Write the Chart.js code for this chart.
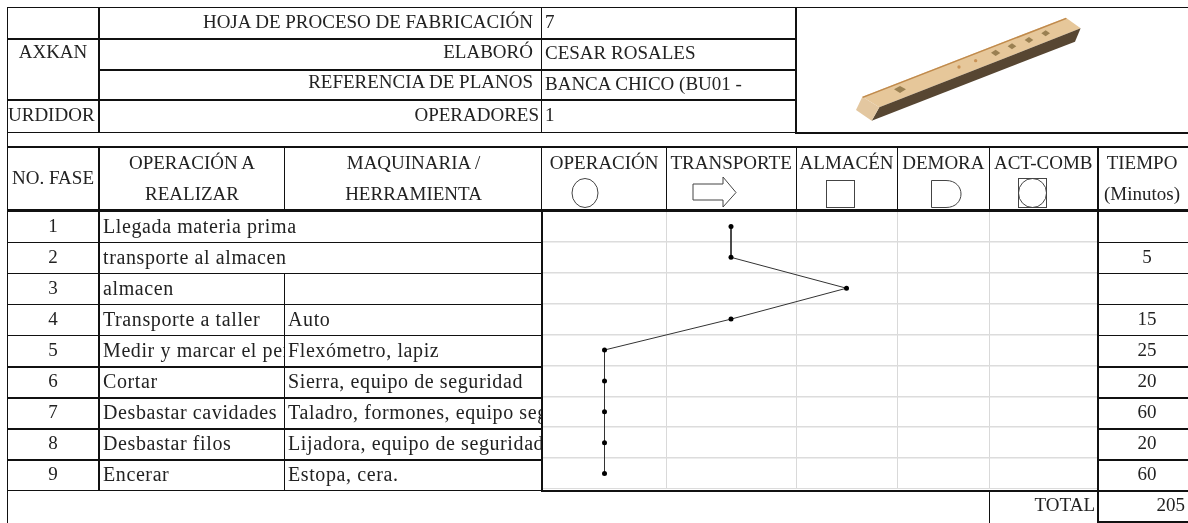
<!DOCTYPE html>
<html>
<head>
<meta charset="utf-8">
<title>Hoja de proceso</title>
<script src="https://cdn.jsdelivr.net/npm/chart.js@4"></script>
<style>
    html, body { margin: 0; padding: 0; background: #fff; }
    #sheet { position: relative; width: 1188px; height: 523px; overflow: hidden; font-family: "Liberation Serif", serif; font-size: 19px; color: #222; }
    .t { position: absolute; white-space: nowrap; overflow: hidden; line-height: 24px; height: 24px; }
    .cuerpo { font-size: 20px; letter-spacing: 0.6px; }
    .ln { position: absolute; background: #111; }
    #plot { position: absolute; left: 542px; top: 211px; width: 555px; height: 278px; }
    svg { position: absolute; left: 0; top: 0; }
</style>
</head>
<body>
<div id="sheet">
    <div id="plot"><canvas id="chart" width="555" height="278"></canvas></div>
    <svg width="1188" height="523" fill="none" stroke="#444" stroke-width="1">
        <!-- simbolos de la cabecera -->
        <ellipse cx="585" cy="193" rx="13" ry="14.5"/>
        <path d="M693 184H723V177L736 192.5L723 207V200H693Z"/>
        <rect x="826.5" y="180.5" width="28" height="27"/>
        <path d="M931.5 180.5H946C966 180.5 966 207.5 946 207.5H931.5Z"/>
        <rect x="1018.5" y="178.5" width="28" height="29"/>
        <ellipse cx="1032.5" cy="193" rx="14" ry="14.5"/>
        <!-- pieza -->
        <g transform="translate(830 0) scale(0.3333)" stroke="none">
            <path fill="#e6c79a" d="M97 290L708 53L752 85L148 322Z"/>
            <path fill="#574632" d="M148 322L752 85L735 125L125 362Z"/>
            <path fill="#e3c7a0" d="M78 330L97 290L148 322L125 362Z"/>
            <path fill="#c08a4c" d="M97 290L708 53L710 57L99 294Z"/>
            <path fill="#9a8052" d="M192 268L210 258L228 268L210 279Z"/>
            <path fill="#9a8052" d="M483 158L497 149L511 159L497 168Z"/>
            <path fill="#9a8052" d="M533 139L546 130L559 139L546 148Z"/>
            <path fill="#9a8052" d="M584 120L597 111L610 120L597 129Z"/>
            <path fill="#9a8052" d="M634 100L647 91L660 100L647 109Z"/>
            <circle cx="387" cy="201" r="5" fill="#c99255"/>
            <circle cx="437" cy="182" r="5" fill="#c99255"/>
        </g>
    </svg>
</div>
<script>
const fases = ['1', '2', '3', '4', '5', '6', '7', '8', '9'];
const operaciones = ['Llegada materia prima', 'transporte al almacen', 'almacen', 'Transporte a taller', 'Medir y marcar el perfil', 'Cortar', 'Desbastar cavidades', 'Desbastar filos', 'Encerar'];
const maquinaria = ['', '', '', 'Auto', 'Flexómetro, lapiz', 'Sierra, equipo de seguridad', 'Taladro, formones, equipo seguridad', 'Lijadora, equipo de seguridad', 'Estopa, cera.'];
const tiempos = ['', '5', '', '15', '25', '20', '60', '20', '60'];
const columnas = ['OPERACIÓN', 'TRANSPORTE', 'ALMACÉN', 'DEMORA', 'ACT-COMB'];
// limites de columna y posicion de cada fase, leidos sobre el eje horizontal
const limitesColumna = [0, 124.4, 254, 355.2, 447.5, 555];
const faseX = [189, 189, 304.5, 189, 62.5, 62.5, 62.5, 62.5, 62.5];
const total = '205';

const sheet = document.getElementById('sheet');

function text(str, x, cy, align, width, clase) {
    const el = document.createElement('div');
    el.className = clase ? 't ' + clase : 't';
    el.textContent = str;
    el.style.top = (cy - 12) + 'px';
    el.style.left = x + 'px';
    el.style.width = width + 'px';
    el.style.textAlign = align || 'left';
    sheet.appendChild(el);
}

function hline(y, x1, x2, w) {
    const el = document.createElement('div');
    el.className = 'ln';
    el.style.cssText = `left:${x1}px;top:${y}px;width:${x2 - x1}px;height:${w}px`;
    sheet.appendChild(el);
}

function vline(x, y1, y2, w) {
    const el = document.createElement('div');
    el.className = 'ln';
    el.style.cssText = `left:${x}px;top:${y1}px;width:${w}px;height:${y2 - y1}px`;
    sheet.appendChild(el);
}

// cabecera
text('AXKAN', 7, 52, 'center', 92);
text('URDIDOR', 8, 115, 'left', 92);
text('HOJA DE PROCESO DE FABRICACIÓN', 100, 22, 'right', 433);
text('ELABORÓ', 100, 52, 'right', 433);
text('REFERENCIA DE PLANOS', 100, 82, 'right', 433);
text('OPERADORES', 100, 115, 'right', 439);
text('7', 545, 22, 'left', 240);
text('CESAR ROSALES', 545, 53, 'left', 240);
text('BANCA CHICO (BU01 -', 545, 84, 'left', 240);
text('1', 545, 115, 'left', 240);

text('NO. FASE', 7, 178, 'center', 92);
text('OPERACIÓN A', 100, 163, 'center', 184);
text('REALIZAR', 100, 194, 'center', 184);
text('MAQUINARIA /', 285, 163, 'center', 257);
text('HERRAMIENTA', 285, 194, 'center', 257);
columnas.forEach((c, i) => {
    text(c, 542 + limitesColumna[i], 163, 'center', limitesColumna[i + 1] - limitesColumna[i]);
});
text('TIEMPO', 1098, 163, 'center', 88);
text('(Minutos)', 1098, 194, 'center', 88);

// filas
fases.forEach((f, i) => {
    const cy = 226 + i * 31;
    text(f, 7, cy, 'center', 92);
    text(operaciones[i], 103, cy, 'left', maquinaria[i] || i === 2 ? 181 : 300, 'cuerpo');
    if (maquinaria[i]) text(maquinaria[i], 288, cy, 'left', 253, 'cuerpo');
    if (tiempos[i]) text(tiempos[i], 1100, cy, 'center', 94);
});
text('TOTAL', 990, 505, 'right', 105);
text(total, 1098, 505, 'right', 87);

// lineas de la hoja
hline(7, 7, 1188, 1);
hline(38, 7, 795, 2);
hline(69, 99, 795, 2);
hline(99, 7, 795, 2);
hline(132, 7, 795, 1);
hline(132, 795, 1188, 2);
hline(146, 7, 1188, 2);
hline(209, 7, 1188, 3);
[242, 273, 304, 335].forEach(y => { hline(y, 7, 542, 1); hline(y, 1097, 1188, 1); });
[366, 397, 428, 459].forEach(y => { hline(y, 7, 542, 2); hline(y, 1097, 1188, 2); });
hline(490, 7, 542, 1);
hline(490, 542, 1188, 2);
hline(521, 1097, 1188, 2);
vline(7, 7, 523, 1);
vline(98, 7, 133, 2);
vline(98, 146, 491, 2);
vline(284, 146, 210, 1);
vline(284, 273, 491, 1);
vline(541, 7, 133, 1);
vline(541, 146, 211, 1);
vline(541, 209, 492, 2);
vline(666, 146, 210, 1);
vline(796, 146, 210, 1);
vline(897, 146, 210, 1);
vline(989, 146, 210, 1);
vline(989, 490, 523, 1);
vline(795, 7, 133, 2);
vline(1097, 146, 523, 2);

new Chart(document.getElementById('chart').getContext('2d'), {
    type: 'line',
    data: {
        labels: fases,
        datasets: [{
            data: fases.map((f, i) => ({ x: faseX[i], y: f })),
            borderColor: '#333',
            borderWidth: 1,
            tension: 0,
            pointBackgroundColor: '#000',
            pointBorderColor: '#000',
            pointBorderWidth: 0,
            pointRadius: 2.5
        }]
    },
    options: {
        responsive: false,
        animation: false,
        indexAxis: 'y',
        layout: { padding: 0, autoPadding: false },
        plugins: { legend: { display: false }, tooltip: { enabled: false } },
        scales: {
            x: {
                type: 'linear',
                min: 0,
                max: 555,
                afterBuildTicks: function(axis) {
                    axis.ticks = limitesColumna.map(v => ({ value: v }));
                },
                ticks: { display: false },
                grid: { color: '#d9d9d9', lineWidth: 1, drawTicks: false },
                border: { display: false }
            },
            y: {
                type: 'category',
                labels: fases,
                offset: true,
                ticks: { display: false },
                grid: { color: '#dcdcdc', lineWidth: 1.5, drawTicks: false, offset: true },
                border: { display: false }
            }
        }
    }
});
</script>
</body>
</html>
